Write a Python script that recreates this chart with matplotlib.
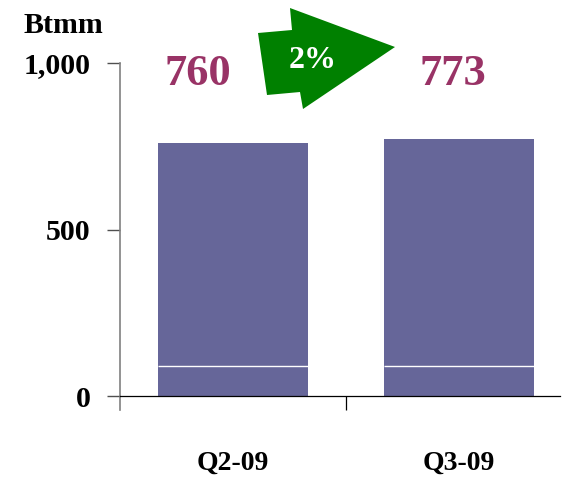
import matplotlib
matplotlib.use('Agg')
import matplotlib.pyplot as plt
import matplotlib.transforms as mtransforms
from matplotlib.patches import Polygon

# volumes by quarter (Btmm)
quarters = ['Q2-09', 'Q3-09']
totals = [760, 773]
base_part = [90, 90]
upper_part = [t - b for t, b in zip(totals, base_part)]
growth_label = '2%'
yticks = [0, 500, 1000]
ytick_labels = ['0', '500', '1,000']

BAR_COLOR = '#666699'
VALUE_COLOR = '#993366'
ARROW_COLOR = '#008000'
SERIF = ['Liberation Serif', 'DejaVu Serif']

W, H = 564, 483
fig = plt.figure(figsize=(W / 100, H / 100), dpi=100)
ax = fig.add_axes([120 / W, 73 / H, 440 / W, 347 / H])

x = list(range(len(quarters)))
ax.bar(x, base_part, width=0.668, color=BAR_COLOR, edgecolor='none')
ax.bar(x, upper_part, bottom=base_part, width=0.668, color=BAR_COLOR, edgecolor='none')
# thin white split between the two segments
for xi, b in zip(x, base_part):
    ax.hlines(b, xi - 0.334, xi + 0.334, color='white', lw=1.0)

ax.set_xlim(-0.5, 1.447)
ax.set_ylim(-42, 1000)

for s in ('top', 'right'):
    ax.spines[s].set_visible(False)
ax.spines['left'].set_color('#808080')
ax.spines['left'].set_linewidth(1.2)
ax.spines['bottom'].set_position(('data', 0))
ax.spines['bottom'].set_color('black')
ax.spines['bottom'].set_linewidth(0.9)

ax.set_yticks(yticks)
ax.set_yticklabels(ytick_labels, fontfamily=SERIF, fontweight='bold', fontsize=21.5)
ax.tick_params(axis='y', length=9.4, width=1.0, color='#505050', pad=12)
ax.set_xticks([0.5])
ax.set_xticklabels([''])
ax.tick_params(axis='x', length=10, width=0.9, color='black', direction='out')

# category labels under the axis
trans = mtransforms.blended_transform_factory(ax.transData, fig.transFigure)
for xi, q in zip(x, quarters):
    ax.text(xi, 13 / H, q, transform=trans, ha='center', va='baseline',
            fontfamily=SERIF, fontweight='bold', fontsize=20)

# totals above the bars
label_offsets = [-0.157, -0.029]
for xi, t, dx in zip(x, totals, label_offsets):
    ax.text(xi + dx, 934, f'{t}', ha='center', va='baseline', color=VALUE_COLOR,
            fontfamily=SERIF, fontweight='bold', fontsize=32, clip_on=False)

fig.text(23 / W, (H - 33) / H, 'Btmm', ha='left', va='baseline',
         fontfamily=SERIF, fontweight='bold', fontsize=21.5)

# growth arrow between the two totals
arrow_px = [(258, 33), (292, 30), (290, 8), (395, 47), (303, 109), (300, 92), (267, 95)]
arrow = Polygon([(px / W, 1 - py / H) for px, py in arrow_px], closed=True,
                transform=fig.transFigure, facecolor=ARROW_COLOR, edgecolor='none')
fig.patches.append(arrow)
fig.text(313 / W, 1 - 61 / H, growth_label, ha='center', va='center', color='white',
         fontfamily=SERIF, fontweight='bold', fontsize=23)

fig.savefig('out.png', dpi=100)
